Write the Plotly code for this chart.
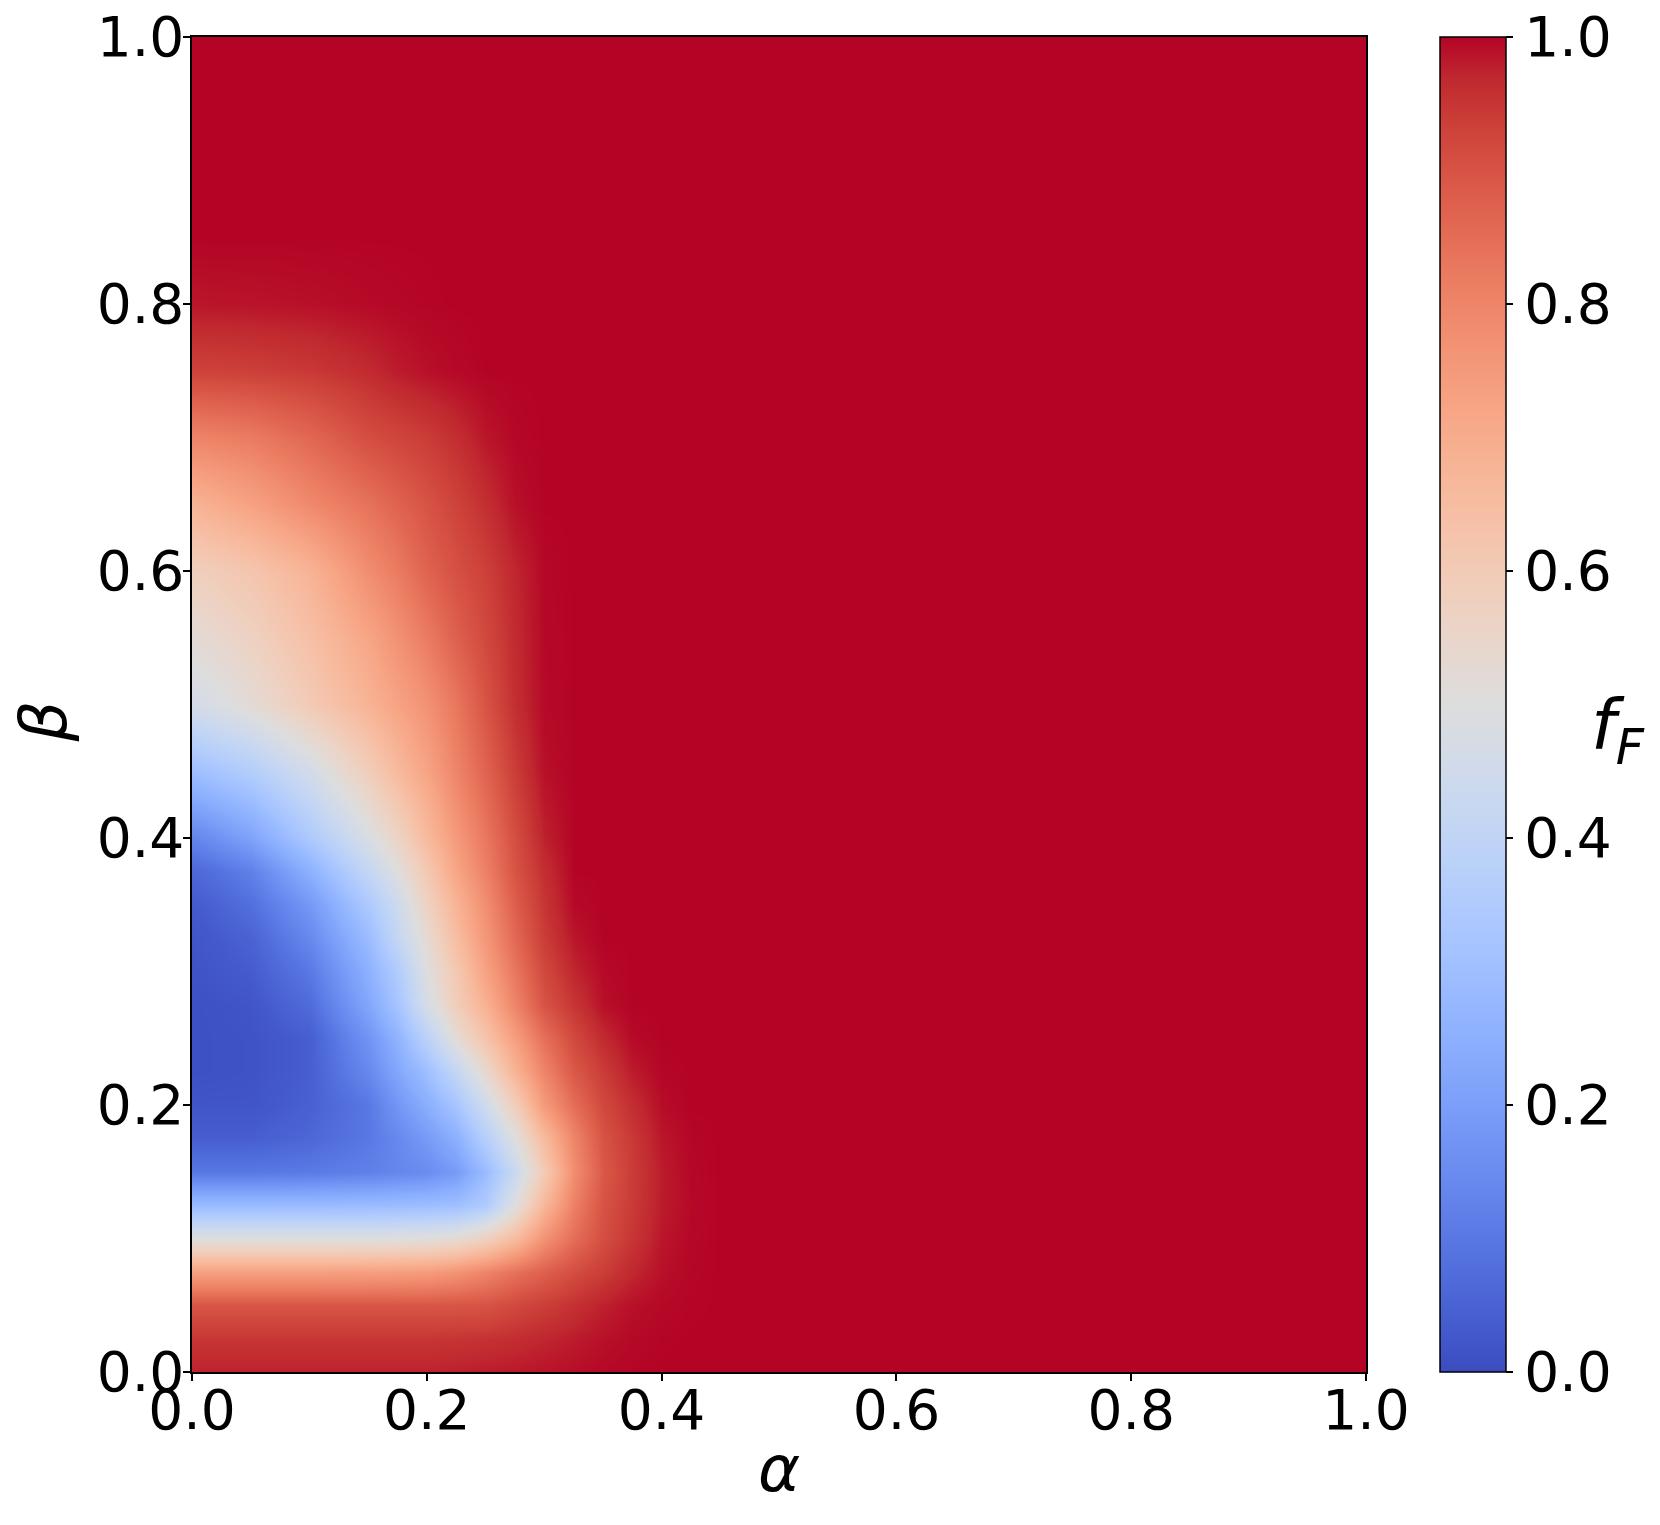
import plotly.graph_objects as go

# grid of the map: alpha (x) and beta (y) sample positions
alpha = [0.0, 0.05, 0.1, 0.15, 0.175, 0.2, 0.225, 0.25, 0.275, 0.3, 0.325, 0.35,
         0.375, 0.4, 0.425, 0.45, 1.0]
beta = [0.0, 0.025, 0.05, 0.075, 0.1, 0.125, 0.15, 0.175, 0.2, 0.225, 0.25, 0.275,
        0.3, 0.325, 0.35, 0.375, 0.4, 0.45, 0.5, 0.55, 0.6, 0.65, 0.7, 0.75, 0.8,
        0.85, 1.0]

# f_F values, one row per beta value (columns follow alpha)
f_b000 = [0.975, 0.975, 0.975, 0.975, 0.975, 0.975, 0.977, 0.98, 0.983, 0.987, 0.992, 0.996, 0.999, 1, 1, 1, 1]
f_b025 = [0.95, 0.95, 0.95, 0.95, 0.95, 0.95, 0.952, 0.955, 0.962, 0.97, 0.98, 0.99, 0.996, 0.999, 1, 1, 1]
f_b050 = [0.895, 0.895, 0.895, 0.895, 0.895, 0.895, 0.897, 0.90, 0.919, 0.937, 0.956, 0.975, 0.99, 0.996, 0.999, 1, 1]
f_b075 = [0.735, 0.735, 0.735, 0.737, 0.74, 0.745, 0.765, 0.80, 0.84, 0.876, 0.912, 0.94, 0.968, 0.99, 0.998, 1, 1]
f_b100 = [0.50, 0.50, 0.50, 0.50, 0.505, 0.51, 0.53, 0.58, 0.66, 0.77, 0.85, 0.91, 0.95, 0.985, 0.997, 1, 1]
f_b125 = [0.285, 0.285, 0.285, 0.288, 0.29, 0.295, 0.30, 0.35, 0.50, 0.67, 0.81, 0.90, 0.942, 0.98, 0.996, 1, 1]
f_b150 = [0.10, 0.10, 0.105, 0.12, 0.135, 0.15, 0.19, 0.29, 0.43, 0.60, 0.78, 0.89, 0.94, 0.98, 0.997, 1, 1]
f_b175 = [0.04, 0.04, 0.06, 0.10, 0.14, 0.19, 0.25, 0.37, 0.50, 0.66, 0.80, 0.90, 0.945, 0.985, 0.998, 1, 1]
f_b200 = [0.02, 0.02, 0.045, 0.10, 0.175, 0.245, 0.325, 0.45, 0.59, 0.75, 0.85, 0.92, 0.96, 0.993, 1, 1, 1]
f_b225 = [0.01, 0.015, 0.04, 0.14, 0.22, 0.30, 0.41, 0.54, 0.68, 0.80, 0.89, 0.94, 0.98, 0.998, 1, 1, 1]
f_b250 = [0.01, 0.015, 0.04, 0.17, 0.26, 0.385, 0.52, 0.63, 0.74, 0.845, 0.92, 0.965, 0.995, 1, 1, 1, 1]
f_b275 = [0.01, 0.02, 0.07, 0.22, 0.32, 0.47, 0.59, 0.69, 0.80, 0.90, 0.95, 0.99, 1, 1, 1, 1, 1]
f_b300 = [0.015, 0.035, 0.10, 0.25, 0.35, 0.50, 0.61, 0.73, 0.83, 0.92, 0.97, 0.995, 1, 1, 1, 1, 1]
f_b325 = [0.02, 0.05, 0.14, 0.29, 0.41, 0.53, 0.65, 0.76, 0.86, 0.94, 0.985, 1, 1, 1, 1, 1, 1]
f_b350 = [0.03, 0.08, 0.18, 0.34, 0.44, 0.57, 0.68, 0.78, 0.88, 0.95, 0.995, 1, 1, 1, 1, 1, 1]
f_b375 = [0.06, 0.12, 0.25, 0.41, 0.50, 0.61, 0.72, 0.81, 0.90, 0.96, 1, 1, 1, 1, 1, 1, 1]
f_b400 = [0.13, 0.21, 0.34, 0.48, 0.56, 0.66, 0.75, 0.83, 0.91, 0.975, 1, 1, 1, 1, 1, 1, 1]
f_b450 = [0.30, 0.36, 0.46, 0.59, 0.66, 0.725, 0.80, 0.87, 0.94, 0.99, 1, 1, 1, 1, 1, 1, 1]
f_b500 = [0.46, 0.52, 0.60, 0.68, 0.725, 0.77, 0.83, 0.90, 0.96, 0.995, 1, 1, 1, 1, 1, 1, 1]
f_b550 = [0.52, 0.57, 0.64, 0.72, 0.77, 0.82, 0.875, 0.92, 0.965, 0.996, 1, 1, 1, 1, 1, 1, 1]
f_b600 = [0.58, 0.62, 0.68, 0.78, 0.82, 0.87, 0.905, 0.935, 0.97, 0.997, 1, 1, 1, 1, 1, 1, 1]
f_b650 = [0.68, 0.73, 0.79, 0.84, 0.87, 0.90, 0.93, 0.96, 0.99, 1, 1, 1, 1, 1, 1, 1, 1]
f_b700 = [0.80, 0.82, 0.86, 0.91, 0.925, 0.94, 0.96, 0.985, 0.997, 1, 1, 1, 1, 1, 1, 1, 1]
f_b750 = [0.93, 0.935, 0.945, 0.965, 0.98, 0.99, 0.996, 1, 1, 1, 1, 1, 1, 1, 1, 1, 1]
f_b800 = [0.985, 0.987, 0.99, 0.995, 0.997, 0.999, 1, 1, 1, 1, 1, 1, 1, 1, 1, 1, 1]
f_b850 = [1, 1, 1, 1, 1, 1, 1, 1, 1, 1, 1, 1, 1, 1, 1, 1, 1]
f_b1000 = [1, 1, 1, 1, 1, 1, 1, 1, 1, 1, 1, 1, 1, 1, 1, 1, 1]

z = [f_b000, f_b025, f_b050, f_b075, f_b100, f_b125, f_b150, f_b175, f_b200,
     f_b225, f_b250, f_b275, f_b300, f_b325, f_b350, f_b375, f_b400, f_b450,
     f_b500, f_b550, f_b600, f_b650, f_b700, f_b750, f_b800, f_b850, f_b1000]

tick_vals = [0.0, 0.2, 0.4, 0.6, 0.8, 1.0]

# matplotlib "coolwarm" colormap (33 control points)
cw = [(59, 76, 192), (68, 90, 204), (77, 104, 215), (87, 117, 225), (98, 130, 234),
      (108, 142, 241), (119, 154, 247), (130, 165, 251), (141, 176, 254), (152, 185, 255),
      (163, 194, 255), (174, 201, 253), (184, 208, 249), (194, 213, 244), (204, 217, 238),
      (213, 219, 230), (221, 221, 221), (229, 216, 209), (236, 211, 197), (241, 204, 184),
      (245, 196, 172), (247, 187, 159), (247, 177, 147), (247, 166, 134), (244, 154, 123),
      (241, 141, 111), (236, 127, 99), (229, 112, 88), (222, 96, 77), (213, 80, 66),
      (203, 62, 56), (192, 40, 47), (180, 4, 38)]
colorscale = [[i / (len(cw) - 1), "rgb(%d,%d,%d)" % c] for i, c in enumerate(cw)]

FONT = "DejaVu Sans"

fig = go.Figure(go.Heatmap(
    x=alpha, y=beta, z=z, zmin=0, zmax=1, zsmooth="best",
    colorscale=colorscale,
    colorbar=dict(
        x=(1440 - 192) / 1174, xanchor="left", xpad=0,
        y=0.5, yanchor="middle", len=1, lenmode="fraction", ypad=0,
        thickness=66, outlinewidth=1.5, outlinecolor="black",
        tickvals=tick_vals, tickformat=".1f", ticks="outside", ticklen=7,
        tickwidth=1.5, tickcolor="black",
        tickfont=dict(family=FONT, size=55, color="black"),
    ),
))

axis_common = dict(
    range=[0, 1], tickvals=tick_vals, tickformat=".1f", ticks="outside",
    ticklen=7, tickwidth=1.5, tickcolor="black", showline=True, linecolor="black",
    linewidth=1.5, mirror=True, showgrid=False, zeroline=False,
    tickfont=dict(family=FONT, size=55, color="black"),
)

fig.update_layout(
    width=1660, height=1525,
    margin=dict(l=192, r=294, t=37, b=153, pad=0, autoexpand=False),
    paper_bgcolor="white", plot_bgcolor="white",
    xaxis=dict(axis_common, ticklabelstandoff=-18),
    yaxis=dict(axis_common, ticklabelstandoff=-12),
    annotations=[
        dict(text="<i>α</i>", x=0.5, y=-0.0727, xref="paper", yref="paper",
             xanchor="center", yanchor="middle", showarrow=False,
             font=dict(family=FONT, size=64, color="black")),
        dict(text="<i>β</i>", x=-0.1257, y=0.4876, xref="paper", yref="paper",
             xanchor="center", yanchor="middle", showarrow=False, textangle=-90,
             font=dict(family=FONT, size=64, color="black")),
        dict(text="<i>f</i><sub><i>F</i></sub>", x=1.2147, y=0.481, xref="paper", yref="paper",
             xanchor="center", yanchor="middle", showarrow=False,
             font=dict(family=FONT, size=70, color="black")),
    ],
)

fig.write_html("out.html", config={"displayModeBar": False},
               post_script="document.body.style.margin='0px';")
